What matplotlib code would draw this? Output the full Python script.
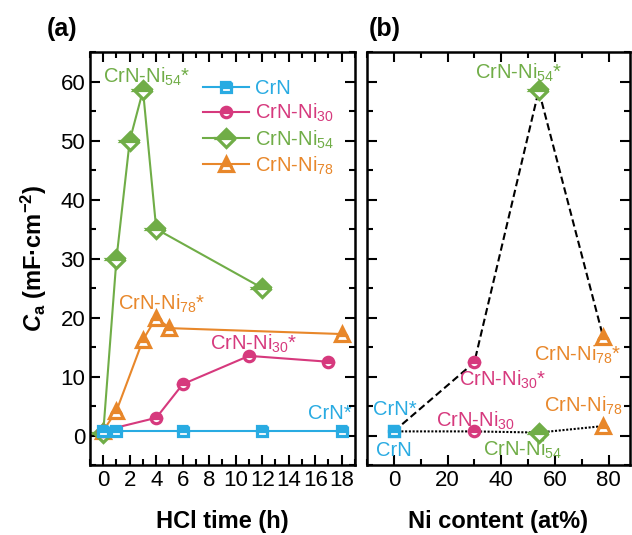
import matplotlib
matplotlib.use('Agg')
import matplotlib.pyplot as plt
from matplotlib.ticker import MultipleLocator

plt.rcParams['font.family'] = 'Liberation Sans'
plt.rcParams['mathtext.fontset'] = 'custom'
plt.rcParams['mathtext.rm'] = 'Liberation Sans'
plt.rcParams['mathtext.it'] = 'Liberation Sans:italic:bold'
plt.rcParams['mathtext.bf'] = 'Liberation Sans:bold'

# colours
c_crn = '#29abe2'
c_ni30 = '#d6397d'
c_ni54 = '#70ad47'
c_ni78 = '#e8872a'

# panel (a): capacitance vs HCl time
t_crn = [0, 1, 6, 12, 18]
ca_crn = [0.7, 0.7, 0.7, 0.7, 0.7]
t_ni30 = [0, 4, 6, 11, 17]
ca_ni30 = [0.8, 3.0, 8.7, 13.5, 12.5]
t_ni54 = [0, 1, 2, 3, 4, 12]
ca_ni54 = [0.5, 30.0, 50.0, 58.5, 35.0, 25.0]
t_ni78 = [0, 1, 3, 4, 5, 18]
ca_ni78 = [0.8, 4.2, 16.2, 20.0, 18.2, 17.2]

# panel (b): capacitance vs Ni content
ni_content = [0, 30, 54, 78]
ca_initial = [0.7, 0.7, 0.5, 1.6]
ca_max = [0.7, 12.4, 58.5, 16.7]
b_colors = [c_crn, c_ni30, c_ni54, c_ni78]
b_markers = ['s', 'o', 'D', '^']

msize = {'s': 6.5, 'o': 7.5, 'D': 9.5, '^': 9.5}
mew = 2.3
fs_txt = 14.5


def style(ax):
    ax.set_ylim(-5, 65)
    ax.yaxis.set_major_locator(MultipleLocator(10))
    ax.yaxis.set_minor_locator(MultipleLocator(5))
    ax.tick_params(which='both', direction='in', top=True, right=True,
                   width=1.5, labelsize=16)
    ax.tick_params(which='major', length=7)
    ax.tick_params(which='minor', length=4)
    for s in ax.spines.values():
        s.set_linewidth(1.8)


fig = plt.figure(figsize=(6.32, 5.35), dpi=100)
ax1 = fig.add_axes([0.1424, 0.1308, 0.4193, 0.772])
ax2 = fig.add_axes([0.5807, 0.1308, 0.4161, 0.772])

series = [
    (t_crn, ca_crn, c_crn, 's', 'CrN'),
    (t_ni30, ca_ni30, c_ni30, 'o', 'CrN-Ni$_{30}$'),
    (t_ni54, ca_ni54, c_ni54, 'D', 'CrN-Ni$_{54}$'),
    (t_ni78, ca_ni78, c_ni78, '^', 'CrN-Ni$_{78}$'),
]
for x, y, c, m, lab in series[::-1]:
    ax1.plot(x, y, color=c, lw=1.5, marker=m, ms=msize[m], mec=c, mew=mew,
             mfc=c, fillstyle='top', markerfacecoloralt='white', label=lab)

style(ax1)
ax1.set_xlim(-1, 19)
ax1.xaxis.set_major_locator(MultipleLocator(2))
ax1.xaxis.set_minor_locator(MultipleLocator(1))
ax1.set_xlabel('HCl time (h)', fontsize=17, fontweight='bold', labelpad=14)
ax1.set_ylabel(r'$C_\mathbf{a}$ (mF·cm$^{\mathbf{-2}}$)', fontsize=17,
               fontweight='bold', labelpad=8)

h, l = ax1.get_legend_handles_labels()
ax1.legend(h[::-1], l[::-1], loc='upper left', bbox_to_anchor=(0.426, 0.935),
           frameon=False, fontsize=fs_txt, labelcolor='linecolor',
           handlelength=2.3, handletextpad=0.3, labelspacing=0.2,
           borderpad=0, borderaxespad=0)

ax1.text(3.25, 60.8, 'CrN-Ni$_{54}$*', color=c_ni54, fontsize=fs_txt, ha='center', va='center')
ax1.text(4.4, 22.3, 'CrN-Ni$_{78}$*', color=c_ni78, fontsize=fs_txt, ha='center', va='center')
ax1.text(11.35, 15.6, 'CrN-Ni$_{30}$*', color=c_ni30, fontsize=fs_txt, ha='center', va='center')
ax1.text(17.1, 3.7, 'CrN*', color=c_crn, fontsize=fs_txt, ha='center', va='center')

# panel (b)
ax2.plot(ni_content, ca_max, color='black', lw=1.5, ls=(0, (3.5, 1.8)), zorder=2)
ax2.plot(ni_content, ca_initial, color='black', lw=1.5, ls=(0, (1, 0.8)), zorder=2)
for i in range(len(ni_content)):
    m = b_markers[i]
    c = b_colors[i]
    for y in (ca_initial[i], ca_max[i]):
        ax2.plot([ni_content[i]], [y], ls='none', marker=m, ms=msize[m], mec=c,
                 mew=mew, mfc=c, fillstyle='top', markerfacecoloralt='white', zorder=3)

style(ax2)
ax2.set_xlim(-10, 88)
ax2.xaxis.set_major_locator(MultipleLocator(20))
ax2.xaxis.set_minor_locator(MultipleLocator(10))
ax2.tick_params(labelleft=False)
ax2.set_xlabel('Ni content (at%)', fontsize=17, fontweight='bold', labelpad=14)

ax2.text(46.5, 61.4, 'CrN-Ni$_{54}$*', color=c_ni54, fontsize=fs_txt, ha='center', va='center')
ax2.text(68.5, 13.6, 'CrN-Ni$_{78}$*', color=c_ni78, fontsize=fs_txt, ha='center', va='center')
ax2.text(40.6, 9.5, 'CrN-Ni$_{30}$*', color=c_ni30, fontsize=fs_txt, ha='center', va='center')
ax2.text(70.7, 5.1, 'CrN-Ni$_{78}$', color=c_ni78, fontsize=fs_txt, ha='center', va='center')
ax2.text(30.5, 2.55, 'CrN-Ni$_{30}$', color=c_ni30, fontsize=fs_txt, ha='center', va='center')
ax2.text(0.5, 4.4, 'CrN*', color=c_crn, fontsize=fs_txt, ha='center', va='center')
ax2.text(0.0, -2.5, 'CrN', color=c_crn, fontsize=fs_txt, ha='center', va='center')
ax2.text(48.0, -2.5, 'CrN-Ni$_{54}$', color=c_ni54, fontsize=fs_txt, ha='center', va='center')

fig.text(0.098, 0.945, '(a)', fontsize=18, fontweight='bold', ha='center', va='center')
fig.text(0.608, 0.945, '(b)', fontsize=18, fontweight='bold', ha='center', va='center')

fig.savefig('out.png', dpi=100)
